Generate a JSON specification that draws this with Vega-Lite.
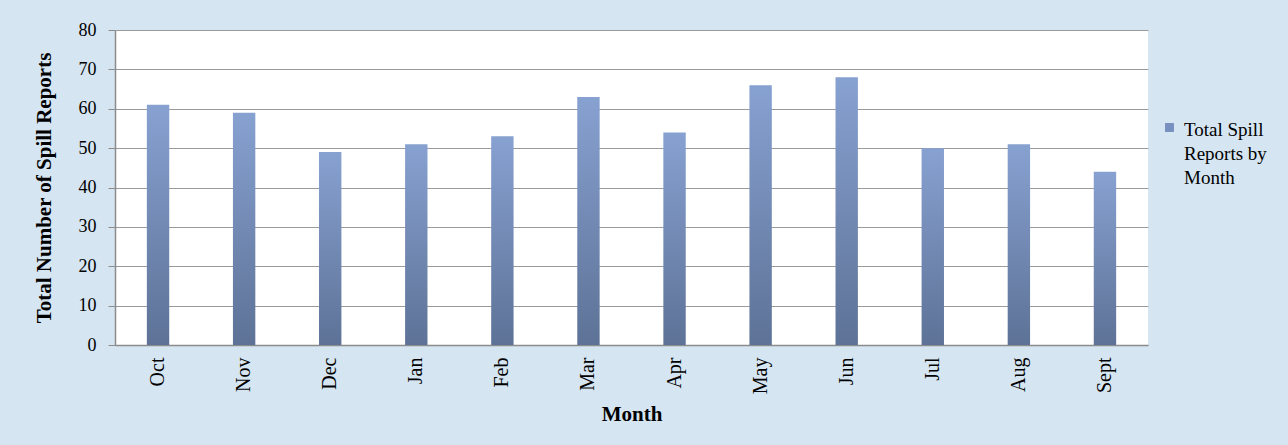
{
  "$schema": "https://vega.github.io/schema/vega-lite/v6.json",
  "width": 1033,
  "height": 315,
  "autosize": "none",
  "padding": {"left": 115, "top": 30, "right": 140, "bottom": 100},
  "background": "#d5e5f2",
  "config": {
    "view": {"fill": "#ffffff", "stroke": null},
    "font": "Liberation Serif",
    "axis": {"labelFont": "Liberation Serif", "titleFont": "Liberation Serif", "labelColor": "#000000", "titleColor": "#000000"}
  },
  "data": {
    "values": [
      {"month": "Oct", "reports": 61, "series": "Total Spill Reports by Month"},
      {"month": "Nov", "reports": 59, "series": "Total Spill Reports by Month"},
      {"month": "Dec", "reports": 49, "series": "Total Spill Reports by Month"},
      {"month": "Jan", "reports": 51, "series": "Total Spill Reports by Month"},
      {"month": "Feb", "reports": 53, "series": "Total Spill Reports by Month"},
      {"month": "Mar", "reports": 63, "series": "Total Spill Reports by Month"},
      {"month": "Apr", "reports": 54, "series": "Total Spill Reports by Month"},
      {"month": "May", "reports": 66, "series": "Total Spill Reports by Month"},
      {"month": "Jun", "reports": 68, "series": "Total Spill Reports by Month"},
      {"month": "Jul", "reports": 50, "series": "Total Spill Reports by Month"},
      {"month": "Aug", "reports": 51, "series": "Total Spill Reports by Month"},
      {"month": "Sept", "reports": 44, "series": "Total Spill Reports by Month"}
    ]
  },
  "encoding": {
    "x": {
      "field": "month", "type": "nominal", "sort": null,
      "scale": {"paddingInner": 0.74, "paddingOuter": 0.37},
      "axis": {
        "title": "Month", "titleFontSize": 21, "titleFontWeight": "bold", "titlePadding": 10,
        "labelAngle": -90, "labelFontSize": 20, "labelPadding": 12, "ticks": false,
        "domainColor": "#8c8c8c", "domainWidth": 1.5
      }
    },
    "y": {
      "field": "reports", "type": "quantitative",
      "scale": {"domain": [0, 80], "nice": false},
      "axis": {
        "title": "Total Number of Spill Reports", "titleFontSize": 21, "titleFontWeight": "bold", "titlePadding": 24,
        "values": [0, 10, 20, 30, 40, 50, 60, 70, 80],
        "labelFontSize": 18, "labelPadding": 12, "tickSize": 7, "tickColor": "#8c8c8c",
        "gridColor": "#9a9a9a", "gridWidth": 1.2, "domainColor": "#8c8c8c", "domainWidth": 1.5
      }
    }
  },
  "layer": [
    {
      "mark": {
        "type": "bar",
        "fill": {
          "gradient": "linear", "x1": 0, "y1": 0, "x2": 0, "y2": 1,
          "stops": [{"offset": 0, "color": "#87a1d1"}, {"offset": 1, "color": "#5d7296"}]
        }
      }
    },
    {
      "mark": {"type": "bar", "opacity": 0},
      "encoding": {
        "color": {
          "field": "series", "type": "nominal",
          "scale": {"range": ["#7890bf"]},
          "legend": {
            "title": null, "orient": "none", "legendX": 1045, "legendY": 88,
            "symbolType": "square", "symbolSize": 80, "symbolOpacity": 1, "symbolStrokeWidth": 0,
            "labelFont": "Liberation Serif", "labelFontSize": 19, "labelColor": "#000000",
            "labelExpr": "['Total Spill', 'Reports by', 'Month']", "labelBaseline": "top", "labelOffset": 5, "labelLimit": 200,
            "encode": {"labels": {"update": {"lineHeight": {"value": 24}, "dy": {"value": -7}}}}
          }
        }
      }
    }
  ]
}
